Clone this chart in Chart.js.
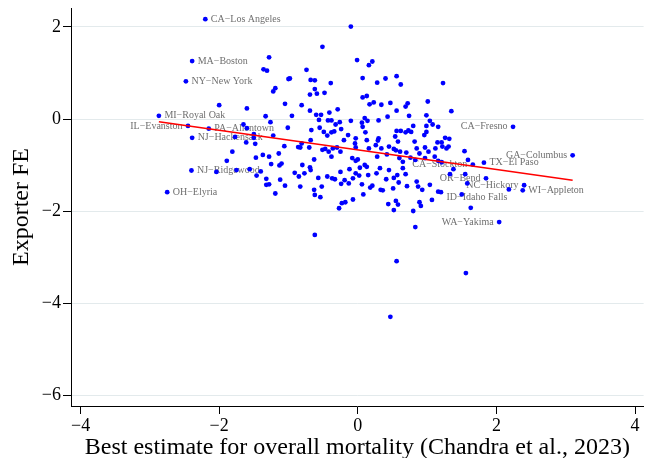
<!DOCTYPE html>
<html>
<head>
<meta charset="utf-8">
<script src="https://cdn.jsdelivr.net/npm/chart.js@4/dist/chart.umd.min.js"></script>
<style>
  html, body { margin: 0; padding: 0; background: #ffffff; }
  #wrap { width: 646px; height: 458px; }
</style>
</head>
<body>
<div id="wrap"><canvas id="chart" width="646" height="458"></canvas></div>
<script>
// Commuting zones: mortality estimate (x) vs exporter fixed effect (y)
const metroPoints = [
  [-1.28,1.34],[-1.36,1.08],[-1.31,1.05],[-1.00,0.87],[-0.98,0.88],[-1.19,0.67],[-1.22,0.60],[-2.00,0.30],
  [-1.60,0.23],[-1.05,0.33],[-1.33,0.06],[-0.95,0.07],[-1.26,-0.07],[-1.65,-0.12],[-1.60,-0.20],[-1.01,-0.19],
  [-1.50,-0.33],[-1.50,-0.41],[-1.22,-0.36],[-1.77,-0.39],[-1.61,-0.51],[-1.48,-0.54],[-1.06,-0.59],[-0.86,-0.61],
  [-1.81,-0.71],[-1.37,-0.78],[-1.28,-0.82],[-1.14,-0.75],[-1.47,-0.84],[-1.89,-0.91],[-1.25,-0.98],[-1.13,-1.01],
  [-1.10,-0.97],[-2.04,-1.15],[-1.75,-1.11],[-1.56,-1.09],[-1.40,-1.14],[-1.46,-1.23],[-1.32,-1.30],[-0.91,-1.17],
  [-0.85,-1.25],[-1.32,-1.43],[-1.28,-1.42],[-1.12,-1.32],[-1.05,-1.45],[-1.19,-1.62],[-0.62,-2.52],
  [-0.10,2.01],[-0.51,1.57],[-0.74,1.07],[-0.68,0.85],[-0.62,0.84],[-0.62,0.65],[-0.59,0.55],[-0.69,0.53],
  [-0.48,0.57],[-0.39,0.78],[-0.01,1.28],[0.21,1.25],[0.16,1.17],[0.07,0.89],[0.07,0.47],[0.13,0.50],
  [0.28,0.79],[0.40,0.88],[0.56,0.93],[0.62,0.75],[1.23,0.78],[-0.81,0.30],[-0.69,0.18],[-0.41,0.14],
  [-0.29,0.21],[-0.60,0.09],[-0.53,0.09],[-0.56,-0.02],[-0.43,-0.03],[-0.38,-0.03],[-0.26,-0.07],[-0.32,-0.12],
  [-0.10,-0.04],[0.06,-0.08],[0.10,0.02],[0.14,-0.04],[0.17,0.32],[0.23,0.36],[0.34,0.31],[0.47,0.35],
  [0.30,-0.03],[0.43,0.05],[0.56,0.18],[0.69,0.27],[0.72,0.34],[0.74,0.07],[1.01,0.38],[0.99,0.08],
  [1.04,-0.04],[1.08,-0.12],[0.99,-0.15],[0.80,-0.15],[1.35,0.17],
  [-0.67,-0.24],[-0.55,-0.19],[-0.49,-0.28],[-0.38,-0.29],[-0.34,-0.27],[-0.24,-0.22],[-0.14,-0.35],[0.07,-0.17],
  [0.11,-0.29],[-0.03,-0.42],[-0.44,-0.36],[-0.68,-0.46],[-0.81,-0.53],[0.30,-0.42],[0.29,-0.47],[0.54,-0.38],
  [0.56,-0.26],[0.62,-0.26],[0.69,-0.29],[0.73,-0.25],[0.77,-0.28],[0.82,-0.49],[0.96,-0.35],[0.99,-0.28],
  [1.16,-0.17],[1.15,-0.51],[1.21,-0.51],[1.26,-0.41],[1.28,-0.64],[0.58,-0.49],
  [-0.83,-0.62],[-0.70,-0.62],[-0.51,-0.67],[-0.47,-0.65],[-0.42,-0.71],[-0.36,-0.64],[-0.30,-0.62],[-0.25,-0.71],
  [-0.20,-0.46],[-0.04,-0.53],[-0.03,-0.62],[0.13,-0.46],[0.16,-0.64],[0.26,-0.57],[0.34,-0.64],[0.45,-0.60],
  [0.52,-0.65],[0.55,-0.68],[0.61,-0.71],[0.70,-0.73],[0.85,-0.64],[0.89,-0.75],[0.97,-0.62],[1.02,-0.71],
  [1.12,-0.64],[1.22,-0.60],
  [-0.63,-0.88],[-0.80,-1.00],[-0.38,-0.82],[-0.08,-0.85],[-0.03,-0.91],[0.00,-0.88],[0.03,-1.06],[0.10,-1.00],
  [0.13,-1.04],[0.28,-0.82],[0.42,-0.77],[0.60,-0.85],[0.65,-0.93],[0.76,-0.84],[0.83,-0.89],[0.97,-0.85],
  [1.11,-0.82],[1.16,-0.91],[1.21,-0.94],
  [-0.77,-1.18],[-0.69,-1.05],[-0.68,-1.11],[-0.57,-1.28],[-0.44,-1.25],[-0.37,-1.29],[-0.33,-1.31],[-0.25,-1.15],
  [-0.19,-1.33],[-0.12,-1.09],[-0.07,-1.29],[-0.03,-1.18],[0.02,-1.23],[0.15,-1.22],[0.27,-1.18],[0.32,-1.07],
  [0.41,-1.31],[0.45,-1.11],[0.52,-1.28],[0.57,-1.22],[0.65,-1.07],[0.69,-1.20],
  [-0.83,-1.47],[-0.63,-1.54],[-0.52,-1.47],[-0.24,-1.41],[-0.13,-1.40],[0.06,-1.42],[0.18,-1.49],[0.21,-1.45],
  [0.33,-1.54],[0.36,-1.55],[0.51,-1.51],[0.59,-1.38],[0.71,-1.46],[0.87,-1.47],[0.85,-1.36],[0.93,-1.54],
  [1.04,-1.43],
  [-0.62,-1.65],[-0.54,-1.70],[-0.27,-1.94],[-0.23,-1.83],[-0.18,-1.81],[-0.07,-1.75],[0.08,-1.64],[0.44,-1.85],
  [0.55,-1.78],[0.58,-1.86],[0.52,-1.98],[0.80,-2.00],[0.89,-1.81],[0.91,-1.89],[1.07,-1.76],[1.16,-1.58],
  [0.83,-2.35],[0.56,-3.09],[1.56,-3.35],[0.47,-4.30],
  [1.54,-0.70],[1.59,-0.89],[1.58,-1.40],[2.18,-1.53],[1.50,-1.64],[1.63,-1.93],[1.55,-1.20],[1.38,-1.09],
  [1.33,-1.20],[1.32,-0.43],[1.31,-0.60]
];

// Named commuting zones
const cityNames = ['CA−Los Angeles','MA−Boston','NY−New York','MI−Royal Oak','IL−Evanston','PA−Allentown',
  'NJ−Hackensack','NJ−Ridgewood','OH−Elyria','CA−Fresno','GA−Columbus','TX−El Paso','CA−Stockton',
  'OR−Bend','NC−Hickory','WI−Appleton','ID−Idaho Falls','WA−Yakima'];
const cityX = [-2.20,-2.39,-2.48,-2.87,-2.45,-2.15,-2.39,-2.40,-2.75,2.24,3.10,1.82,1.66,1.85,2.40,2.38,1.20,2.04];
const cityY = [2.17,1.26,0.82,0.07,-0.15,-0.21,-0.41,-1.12,-1.59,-0.17,-0.79,-0.95,-0.99,-1.29,-1.44,-1.55,-1.59,-2.24];

// Linear fit endpoints
const fitX = [-2.87, 3.10];
const fitY = [-0.06, -1.33];

// Axis ticks
const xTicks = [-4, -2, 0, 2, 4];
const xTickLabels = ['−4', '−2', '0', '2', '4'];
const yTicks = [-6, -4, -2, 0, 2];
const yTickLabels = ['−6', '−4', '−2', '0', '2'];

// Label placement around markers (clock positions)
const labelClock = {
  'IL−Evanston': 9, 'CA−Fresno': 9, 'GA−Columbus': 9, 'CA−Stockton': 9,
  'OR−Bend': 9, 'NC−Hickory': 9, 'WA−Yakima': 9, 'ID−Idaho Falls': 4
};

const serif = '"Liberation Serif", "Times New Roman", serif';

const cityLabels = {
  id: 'cityLabels',
  afterDatasetDraw(chart, args) {
    if (args.index !== 2) return;
    const ctx = chart.ctx;
    ctx.save();
    ctx.font = '10px ' + serif;
    ctx.fillStyle = '#6f6f6f';
    ctx.textBaseline = 'middle';
    args.meta.data.forEach((pt, i) => {
      const name = cityNames[i];
      const clock = labelClock[name] || 3;
      let dx = 5.5, dy = 0, align = 'left';
      if (clock === 9) { dx = -5.5; align = 'right'; }
      if (clock === 4) { dy = 5; }
      ctx.textAlign = align;
      ctx.fillText(name, pt.x + dx, pt.y + dy);
    });
    ctx.restore();
  }
};

// Keep the plot box fixed: no extra room reserved for overhanging tick labels
const noOverhang = s => { s.paddingTop = 0; s.paddingBottom = 0; s.paddingLeft = 0; s.paddingRight = 0; };

const dotStyle = { backgroundColor: '#0000ff', borderWidth: 0, pointRadius: 2.4, pointHoverRadius: 2.4 };

new Chart(document.getElementById('chart'), {
  type: 'scatter',
  data: {
    datasets: [
      {
        type: 'line',
        data: fitX.map((x, i) => ({ x, y: fitY[i] })),
        borderColor: '#ff0000',
        borderWidth: 1.6,
        pointRadius: 0,
        fill: false,
        tension: 0
      },
      Object.assign({ data: metroPoints.map(([x, y]) => ({ x, y })) }, dotStyle),
      Object.assign({ data: cityX.map((x, i) => ({ x, y: cityY[i] })) }, dotStyle)
    ]
  },
  options: {
    responsive: false,
    animation: false,
    devicePixelRatio: 1,
    layout: { padding: { top: 8, right: 0, bottom: 0, left: 0 } },
    plugins: { legend: { display: false }, tooltip: { enabled: false } },
    scales: {
      x: {
        type: 'linear',
        min: -4.138,
        max: 4.124,
        afterBuildTicks: s => { s.ticks = xTicks.map(v => ({ value: v })); },
        afterFit: s => { s.height = 52; noOverhang(s); },
        ticks: {
          callback: (v, i) => xTickLabels[i],
          font: { family: serif, size: 18 },
          color: '#000000',
          padding: 1,
          maxRotation: 0,
          autoSkip: false
        },
        grid: { drawOnChartArea: false, drawTicks: true, tickLength: 8, tickColor: '#000000', tickWidth: 1 },
        border: { display: true, color: '#000000', width: 1 },
        title: {
          display: true,
          text: 'Best estimate for overall mortality (Chandra et al., 2023)',
          font: { family: serif, size: 24 },
          color: '#000000',
          padding: { top: 0, bottom: -4 }
        }
      },
      y: {
        type: 'linear',
        min: -6.239,
        max: 2.413,
        afterBuildTicks: s => { s.ticks = yTicks.map(v => ({ value: v })); },
        afterFit: s => { s.width = 71; noOverhang(s); },
        ticks: {
          callback: (v, i) => yTickLabels[i],
          font: { family: serif, size: 18 },
          color: '#000000',
          padding: 2,
          autoSkip: false
        },
        grid: { color: '#e3eaec', lineWidth: 1, drawTicks: true, tickLength: 8, tickColor: '#000000', tickWidth: 1 },
        border: { display: true, color: '#000000', width: 1 },
        title: {
          display: true,
          text: 'Exporter FE',
          font: { family: serif, size: 24 },
          color: '#000000',
          padding: { top: 7, bottom: 0 }
        }
      }
    }
  },
  plugins: [cityLabels]
});
</script>
</body>
</html>
